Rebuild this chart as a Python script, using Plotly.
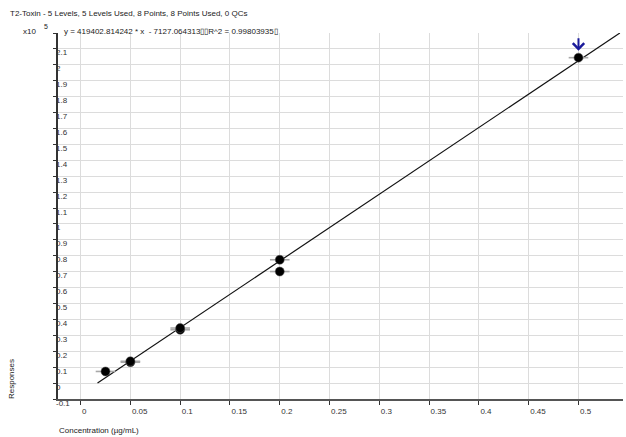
import plotly.graph_objects as go

# Calibration levels (µg/mL) and measured responses
conc = [0.025, 0.05, 0.05, 0.1, 0.1, 0.2, 0.2, 0.5]
resp = [7300, 13100, 13700, 33500, 34600, 77500, 70100, 204500]

# Linear fit reported for the curve
slope = 419402.814242
intercept = -7127.064313
r_squared = 0.99803935

flagged_conc = 0.5
flagged_resp = 204500

x_ticks = [0, 0.05, 0.1, 0.15, 0.2, 0.25, 0.3, 0.35, 0.4, 0.45, 0.5]
x_tick_text = ["0", "0.05", "0.1", "0.15", "0.2", "0.25", "0.3", "0.35", "0.4", "0.45", "0.5"]
y_ticks = [-10000, 0, 10000, 20000, 30000, 40000, 50000, 60000, 70000, 80000, 90000,
           100000, 110000, 120000, 130000, 140000, 150000, 160000, 170000, 180000,
           190000, 200000, 210000, 220000]
y_tick_text = ["-0.1", "0", "0.1", "0.2", "0.3", "0.4", "0.5", "0.6", "0.7", "0.8", "0.9",
               "1", "1.1", "1.2", "1.3", "1.4", "1.5", "1.6", "1.7", "1.8", "1.9",
               "2", "2.1", ""]

x_range = [-0.0227, 0.5447]
y_range = [-10000, 220000]

title_text = "T2-Toxin - 5 Levels, 5 Levels Used, 8 Points, 8 Points Used, 0 QCs"
equation_text = f"y = {slope:.6f} * x  - {abs(intercept):.6f}\u25af\u25afR^2 = {r_squared:.8f}\u25af"

FONT = "Liberation Sans, Arial, sans-serif"
TEXT = "#222222"

# fitted line from where it crosses zero up to the top of the plot
x_start = -intercept / slope
x_end = (y_range[1] - intercept) / slope
fit_x = [x_start, x_end]
fit_y = [slope * v + intercept for v in fit_x]

fig = go.Figure()

fig.add_trace(go.Scatter(
    x=fit_x, y=fit_y, mode="lines",
    line=dict(color="#111111", width=1.2),
    hoverinfo="skip", showlegend=False,
))

fig.add_trace(go.Scatter(
    x=conc, y=resp, mode="markers",
    marker=dict(symbol="line-ew", size=14, line=dict(color="#a8a8a8", width=1.6)),
    hoverinfo="skip", showlegend=False,
))

fig.add_trace(go.Scatter(
    x=conc, y=resp, mode="markers",
    marker=dict(symbol="circle", size=9, color="#000000",
                line=dict(color="#555555", width=0.5)),
    showlegend=False,
))

# marker for the flagged calibration point
fig.add_annotation(
    x=flagged_conc, y=flagged_resp, xref="x", yref="y",
    text="", showarrow=True, arrowhead=4, arrowsize=1.1, arrowwidth=2,
    arrowcolor="#1a1a9a", ax=0, ay=-21, standoff=7,
)

# y tick labels, left-aligned against the axis, sitting just under each gridline
for val, lab in zip(y_ticks, y_tick_text):
    if lab:
        fig.add_annotation(
            x=0, y=val, xref="paper", yref="y", xanchor="left", yanchor="middle",
            xshift=-4, yshift=-4, text=lab, showarrow=False,
            font=dict(family=FONT, size=8, color="#333333"),
        )

fig.add_annotation(
    x=0, y=1, xref="paper", yref="paper", xanchor="left", yanchor="middle",
    xshift=4, yshift=2,
    text=equation_text, showarrow=False,
    font=dict(family=FONT, size=8, color=TEXT),
)
fig.add_annotation(
    x=-58 / 565, y=1, xref="paper", yref="paper", xanchor="left", yanchor="bottom",
    xshift=8, yshift=13, text=title_text, showarrow=False,
    font=dict(family=FONT, size=8, color=TEXT),
)
fig.add_annotation(
    x=0, y=1, xref="paper", yref="paper", xanchor="right", yanchor="middle",
    xshift=-20, yshift=2, text="x10", showarrow=False,
    font=dict(family=FONT, size=8, color=TEXT),
)
fig.add_annotation(
    x=0, y=1, xref="paper", yref="paper", xanchor="right", yanchor="middle",
    xshift=-8, yshift=7, text="5", showarrow=False,
    font=dict(family=FONT, size=7, color=TEXT),
)
fig.add_annotation(
    x=0, y=0, xref="paper", yref="paper", xanchor="left", yanchor="top",
    xshift=-1, yshift=-25, text="Concentration (µg/mL)", showarrow=False,
    font=dict(family=FONT, size=8, color=TEXT),
)
fig.add_annotation(
    x=0, y=0, xref="paper", yref="paper", xanchor="center", yanchor="middle",
    xshift=-47, yshift=20, text="Responses", showarrow=False, textangle=-90,
    font=dict(family=FONT, size=8, color=TEXT),
)

fig.update_layout(
    width=626, height=437,
    margin=dict(l=58, r=3, t=33, b=38),
    paper_bgcolor="white", plot_bgcolor="white",
    font=dict(family=FONT, size=8, color="#333333"),
    showlegend=False,
    xaxis=dict(
        range=x_range, tickvals=x_ticks, ticktext=x_tick_text,
        ticklabelposition="outside right", ticklabelstandoff=3,
        showgrid=True, gridcolor="#dcdcdc", gridwidth=1, zeroline=False,
        showline=True, linecolor="#555555", linewidth=2,
        ticks="outside", ticklen=4, tickcolor="#333333", tickwidth=1,
        tickfont=dict(family=FONT, size=8, color="#333333"),
    ),
    yaxis=dict(
        range=y_range, tickvals=y_ticks, showticklabels=False,
        showgrid=True, gridcolor="#dcdcdc", gridwidth=1, zeroline=False,
        showline=True, linecolor="#333333", linewidth=2,
        ticks="outside", ticklen=3, tickcolor="#333333", tickwidth=1,
    ),
)

fig.write_html("out.html")
